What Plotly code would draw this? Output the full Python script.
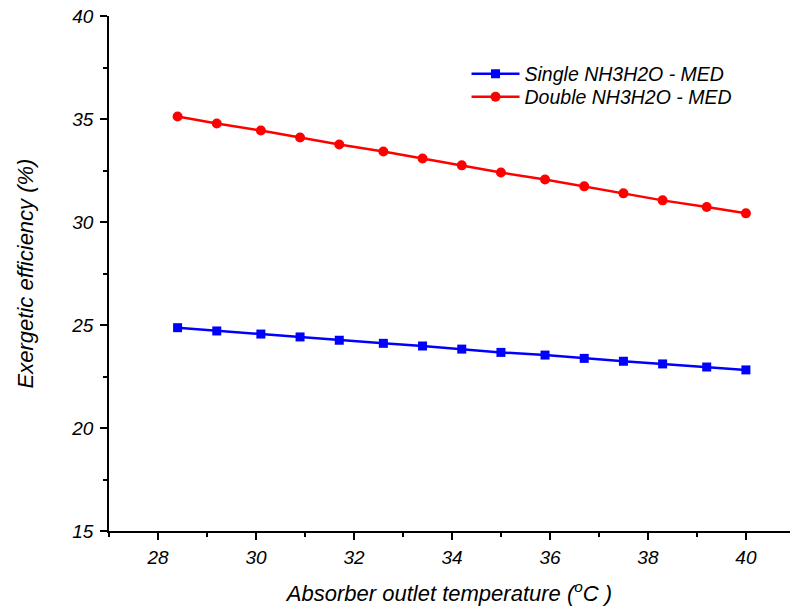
import plotly.graph_objects as go

temperature = [28.4, 29.2, 30.1, 30.9, 31.7, 32.6, 33.4, 34.2, 35.0, 35.9, 36.7, 37.5, 38.3, 39.2, 40.0]
single_eff = [24.87, 24.71, 24.56, 24.42, 24.26, 24.11, 23.98, 23.83, 23.67, 23.54, 23.38, 23.24, 23.11, 22.96, 22.82]
double_eff = [35.12, 34.78, 34.44, 34.10, 33.76, 33.42, 33.08, 32.75, 32.40, 32.06, 31.73, 31.39, 31.05, 30.73, 30.42]

x_ticks = [28, 30, 32, 34, 36, 38, 40]
y_ticks = [15, 20, 25, 30, 35, 40]

font_family = "Liberation Sans, Arial, sans-serif"

fig = go.Figure()
fig.add_trace(go.Scatter(
    x=temperature, y=single_eff, mode="lines+markers",
    name="Single NH3H2O - MED", legend="legend",
    line=dict(color="#0000ff", width=2.5),
    marker=dict(symbol="square", size=9, color="#0000ff"),
))
fig.add_trace(go.Scatter(
    x=temperature, y=double_eff, mode="lines+markers",
    name="Double NH3H2O - MED", legend="legend2",
    line=dict(color="#ff0000", width=2.5),
    marker=dict(symbol="circle", size=10, color="#ff0000"),
))

axis_font = dict(family=font_family, size=19, color="#000000", style="italic")
title_font = dict(family=font_family, size=22, color="#000000", style="italic")
legend_font = dict(family=font_family, size=19.5, color="#000000", style="italic")

legend_common = dict(
    xanchor="left", yanchor="middle",
    font=legend_font, bgcolor="rgba(0,0,0,0)", borderwidth=0, itemwidth=48,
)

fig.update_layout(
    width=790, height=613,
    margin=dict(l=109, r=0, t=16, b=82),
    paper_bgcolor="white", plot_bgcolor="white",
    showlegend=True,
    legend=dict(x=0.525, y=0.8874, **legend_common),
    legend2=dict(x=0.525, y=0.8427, **legend_common),
    xaxis=dict(
        range=[27, 40.9], tickvals=x_ticks,
        ticks="outside", ticklen=7, tickwidth=1.5, tickcolor="#000",
        showline=True, linecolor="#000", linewidth=1.5,
        showgrid=False, zeroline=False,
        tickfont=axis_font, ticklabelstandoff=1,
        minor=dict(ticks="outside", ticklen=4, tickwidth=1.5, tickcolor="#000", dtick=1, tick0=27),
        title=dict(text="Absorber outlet temperature (<sup>o</sup>C )", font=title_font, standoff=19),
    ),
    yaxis=dict(
        range=[15, 40], tickvals=y_ticks,
        ticks="outside", ticklen=7, tickwidth=1.5, tickcolor="#000",
        showline=True, linecolor="#000", linewidth=1.5,
        showgrid=False, zeroline=False,
        tickfont=axis_font, ticklabelstandoff=3,
        minor=dict(ticks="outside", ticklen=4, tickwidth=1.5, tickcolor="#000", dtick=2.5, tick0=15),
        title=dict(text="Exergetic efficiency (%)", font=title_font, standoff=32),
    ),
)

fig.write_html("out.html")
